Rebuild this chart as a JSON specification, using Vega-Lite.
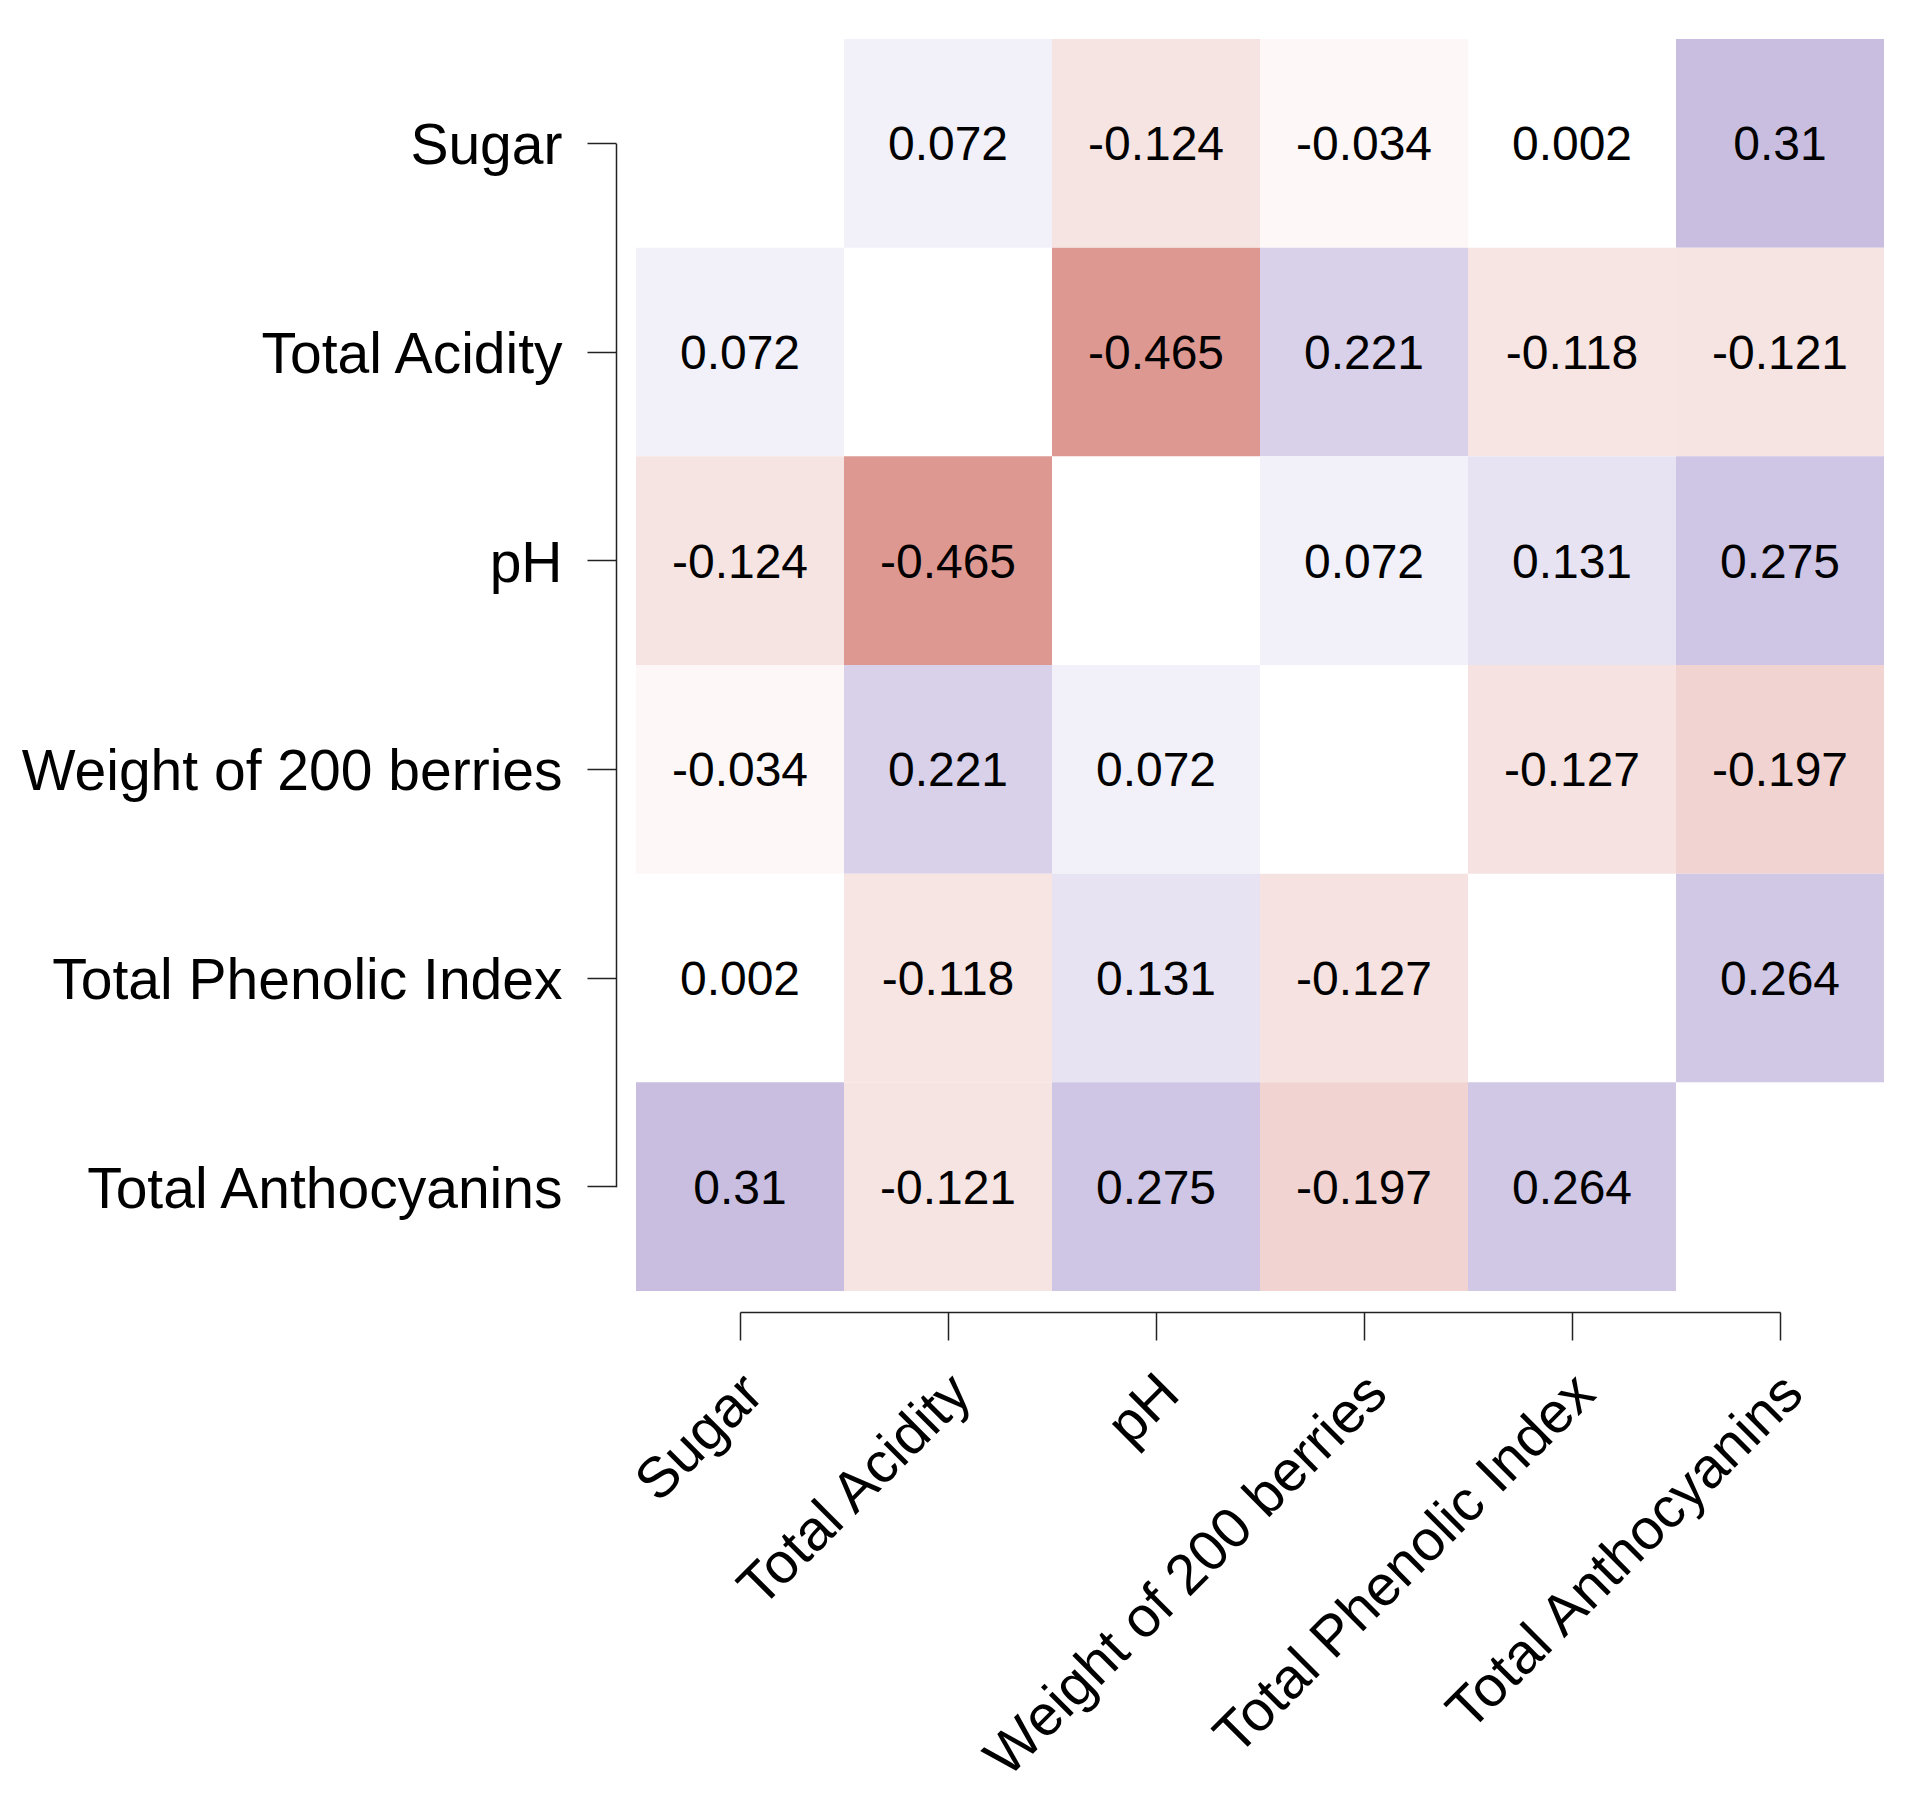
{
  "$schema": "https://vega.github.io/schema/vega-lite/v6.json",
  "width": 1248,
  "height": 1252,
  "autosize": {"type": "none"},
  "padding": {"left": 636, "top": 39, "right": 36, "bottom": 514},
  "background": "white",
  "config": {"view": {"stroke": null}, "font": "Liberation Sans"},
  "data": {
    "values": [
      {"row": "Sugar", "col": "Total Acidity", "r": 0.072},
      {"row": "Sugar", "col": "pH", "r": -0.124},
      {"row": "Sugar", "col": "Weight of 200 berries", "r": -0.034},
      {"row": "Sugar", "col": "Total Phenolic Index", "r": 0.002},
      {"row": "Sugar", "col": "Total Anthocyanins", "r": 0.31},
      {"row": "Total Acidity", "col": "Sugar", "r": 0.072},
      {"row": "Total Acidity", "col": "pH", "r": -0.465},
      {"row": "Total Acidity", "col": "Weight of 200 berries", "r": 0.221},
      {"row": "Total Acidity", "col": "Total Phenolic Index", "r": -0.118},
      {"row": "Total Acidity", "col": "Total Anthocyanins", "r": -0.121},
      {"row": "pH", "col": "Sugar", "r": -0.124},
      {"row": "pH", "col": "Total Acidity", "r": -0.465},
      {"row": "pH", "col": "Weight of 200 berries", "r": 0.072},
      {"row": "pH", "col": "Total Phenolic Index", "r": 0.131},
      {"row": "pH", "col": "Total Anthocyanins", "r": 0.275},
      {"row": "Weight of 200 berries", "col": "Sugar", "r": -0.034},
      {"row": "Weight of 200 berries", "col": "Total Acidity", "r": 0.221},
      {"row": "Weight of 200 berries", "col": "pH", "r": 0.072},
      {"row": "Weight of 200 berries", "col": "Total Phenolic Index", "r": -0.127},
      {"row": "Weight of 200 berries", "col": "Total Anthocyanins", "r": -0.197},
      {"row": "Total Phenolic Index", "col": "Sugar", "r": 0.002},
      {"row": "Total Phenolic Index", "col": "Total Acidity", "r": -0.118},
      {"row": "Total Phenolic Index", "col": "pH", "r": 0.131},
      {"row": "Total Phenolic Index", "col": "Weight of 200 berries", "r": -0.127},
      {"row": "Total Phenolic Index", "col": "Total Anthocyanins", "r": 0.264},
      {"row": "Total Anthocyanins", "col": "Sugar", "r": 0.31},
      {"row": "Total Anthocyanins", "col": "Total Acidity", "r": -0.121},
      {"row": "Total Anthocyanins", "col": "pH", "r": 0.275},
      {"row": "Total Anthocyanins", "col": "Weight of 200 berries", "r": -0.197},
      {"row": "Total Anthocyanins", "col": "Total Phenolic Index", "r": 0.264}
    ]
  },
  "encoding": {
    "x": {
      "field": "col",
      "type": "nominal",
      "scale": {
        "domain": ["Sugar", "Total Acidity", "pH", "Weight of 200 berries", "Total Phenolic Index", "Total Anthocyanins"],
        "paddingInner": 0,
        "paddingOuter": 0
      },
      "axis": {
        "orient": "bottom",
        "title": null,
        "offset": 21,
        "tickSize": 28,
        "tickWidth": 1.5,
        "tickColor": "#222222",
        "domainColor": "#222222",
        "domainWidth": 1.5,
        "domainDash": [0, 104, 1040, 400],
        "labelAngle": -45,
        "labelAlign": "right",
        "labelBaseline": "middle",
        "labelFontSize": 57,
        "labelFont": "Liberation Sans",
        "labelColor": "black",
        "labelPadding": 44,
        "labelOffset": 14,
        "labelLimit": 2000,
        "labelOverlap": false,
        "labelFlush": false
      }
    },
    "y": {
      "field": "row",
      "type": "nominal",
      "scale": {
        "domain": ["Sugar", "Total Acidity", "pH", "Weight of 200 berries", "Total Phenolic Index", "Total Anthocyanins"],
        "paddingInner": 0,
        "paddingOuter": 0
      },
      "axis": {
        "orient": "left",
        "title": null,
        "offset": 20,
        "tickSize": 29,
        "tickWidth": 1.5,
        "tickColor": "#222222",
        "domainColor": "#222222",
        "domainWidth": 1.5,
        "domainDash": [0, 104.33, 1043.33, 400],
        "labelFontSize": 57,
        "labelFont": "Liberation Sans",
        "labelColor": "black",
        "labelPadding": 25,
        "labelOffset": 4,
        "labelLimit": 2000,
        "labelOverlap": false,
        "labelFlush": false
      }
    }
  },
  "layer": [
    {
      "mark": {"type": "rect"},
      "encoding": {
        "color": {
          "field": "r",
          "type": "quantitative",
          "scale": {
            "domain": [-1, 0, 1],
            "range": ["#B82215", "#FFFFFF", "#512D9B"],
            "interpolate": "rgb"
          },
          "legend": null
        }
      }
    },
    {
      "mark": {"type": "text", "fontSize": 48, "baseline": "middle", "dy": 3, "color": "black", "font": "Liberation Sans"},
      "encoding": {
        "text": {"field": "r", "type": "nominal"}
      }
    }
  ]
}
